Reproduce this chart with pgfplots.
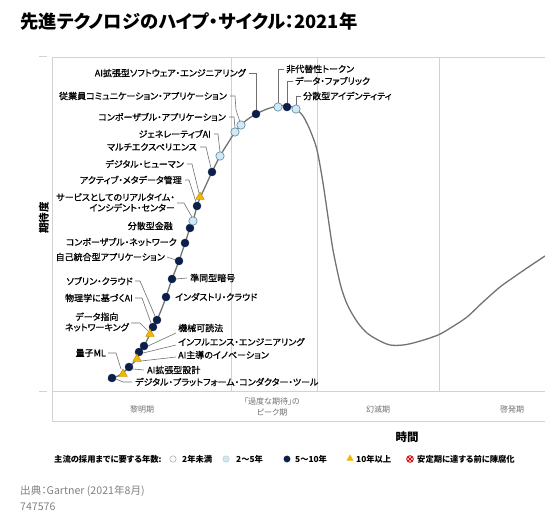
\documentclass[border=0pt]{standalone}
\usepackage{pgfplots}
\pgfplotsset{compat=1.18}
\usepackage{fontspec}
\setmainfont{Noto Sans CJK JP}[RawFeature=+palt]
\newfontfamily\lblfont{Noto Sans CJK JP}[RawFeature=+palt, FakeBold=0.9]
\definecolor{navy}{HTML}{0B1F4B}
\definecolor{lightb}{HTML}{CFEAF6}
\definecolor{lightbd}{HTML}{5E8294}
\definecolor{gold}{HTML}{F2B705}
\definecolor{golddark}{HTML}{B88A00}
\definecolor{curvec}{HTML}{6E7571}
\definecolor{framec}{HTML}{D2D2D2}
\definecolor{leaderc}{HTML}{707070}
\definecolor{phasec}{HTML}{707070}
\tikzset{
  lbl/.style={inner sep=0pt, font=\lblfont\fontsize{9}{10.5}\selectfont, text=black},
  ldr/.style={draw=leaderc, line width=0.6pt},
  fr/.style={draw=framec, line width=0.8pt},
  leg/.style={inner sep=0pt, anchor=west, font=\fontsize{8.3}{9}\selectfont\bfseries},
}
\begin{document}
\begin{tikzpicture}
\begin{axis}[
  width=545pt, height=516pt, scale only axis,
  xmin=0, xmax=545, ymin=0, ymax=516, y dir=reverse,
  hide axis, clip=false,
]
% frame
\draw[fr] (axis cs:52,57) -- (axis cs:545,57);
\draw[fr] (axis cs:52,57) -- (axis cs:52,421);
\draw[fr] (axis cs:52,391) -- (axis cs:545,391);
\draw[fr] (axis cs:52,421) -- (axis cs:545,421);
\draw[fr] (axis cs:39,56) -- (axis cs:47,56);
\draw[fr] (axis cs:39,391) -- (axis cs:47,391);
\draw[fr] (axis cs:231,57) -- (axis cs:231,391);
\draw[fr] (axis cs:317,57) -- (axis cs:317,391);
\draw[fr] (axis cs:439,57) -- (axis cs:439,391);

% hype curve
\addplot[curvec, line width=1.3pt, smooth, tension=0.5, mark=none] coordinates {
(108,380) (112,378) (118,376) (123,373) (129,367) (137,359) (139,353) (144,346)
(150,334) (153,327) (157,320) (162,308) (166,297) (172,279) (179,261) (185,243)
(190,228) (193,221) (197,206) (200,198) (206,185) (212,172) (220,156) (228,143)
(235,132) (241,125) (248,119) (256,114) (267,109) (278,106) (285,105.5) (291,106.5)
(296,109) (303,116) (310,130) (317,150) (323,183) (328,217) (333,250) (340,283)
(345,299) (350,310) (358,323) (367,333) (378,340) (390,345) (403,345) (417,342)
(438,335) (452,327) (467,317) (483,302) (500,287) (514,277) (527,268) (545,256)
};

% leaders
\draw[ldr] (axis cs:249,73) -- (axis cs:256,73) -- (axis cs:256,110);
\draw[ldr] (axis cs:230,96) -- (axis cs:235,96) -- (axis cs:236,110) -- (axis cs:240,122);
\draw[ldr] (axis cs:229,117) -- (axis cs:234,117) -- (axis cs:235,128);
\draw[ldr] (axis cs:214,134) -- (axis cs:218,134) -- (axis cs:220,152);
\draw[ldr] (axis cs:200,147) -- (axis cs:206,147) -- (axis cs:211,168);
\draw[ldr] (axis cs:187,164) -- (axis cs:192,164) -- (axis cs:199,193);
\draw[ldr] (axis cs:185,180) -- (axis cs:189,180) -- (axis cs:196,202);
\draw[ldr] (axis cs:177,203) -- (axis cs:184,203) -- (axis cs:192,217);
\draw[ldr] (axis cs:167,257) -- (axis cs:176,260);
\draw[ldr] (axis cs:176,279) -- (axis cs:187,278);
\draw[ldr] (axis cs:135,281) -- (axis cs:140,281) -- (axis cs:155,316);
\draw[ldr] (axis cs:135,298) -- (axis cs:142,298) -- (axis cs:151,323);
\draw[ldr] (axis cs:131,323) -- (axis cs:140,323) -- (axis cs:148,331);
\draw[ldr] (axis cs:176,333) -- (axis cs:148,346);
\draw[ldr] (axis cs:176,345) -- (axis cs:143,353);
\draw[ldr] (axis cs:176,357) -- (axis cs:141,361);
\draw[ldr] (axis cs:108,353) -- (axis cs:116,353) -- (axis cs:121,369);
\draw[ldr] (axis cs:133,369) -- (axis cs:144,370);
\draw[ldr] (axis cs:116,379) -- (axis cs:123,382) -- (axis cs:132,382);
\draw[ldr] (axis cs:284,69) -- (axis cs:278,69) -- (axis cs:278,103);
\draw[ldr] (axis cs:293,81) -- (axis cs:287,81) -- (axis cs:287,103);
\draw[ldr] (axis cs:301,96) -- (axis cs:296,96) -- (axis cs:296,105);

% markers: 5-10 years
\addplot[only marks, mark=*, mark size=4pt, mark options={fill=navy, draw=navy}] coordinates {
(256,114) (287,107) (212,172) (197,206) (190,228) (185,243) (179,261) (172,279)
(166,297) (157,320) (153,327) (144,346) (139,352) (129,367) (112,378)
};
% 2-5 years
\addplot[only marks, mark=*, mark size=4.2pt, mark options={fill=lightb, draw=lightbd, line width=0.6pt}] coordinates {
(241,125) (235,132) (220,156) (193,221) (278,107) (296,109)
};
% >10 years
\addplot[only marks, mark=triangle*, mark size=5pt, mark options={fill=gold, draw=golddark, line width=0.4pt}] coordinates {
(200,197) (150,334) (137,359) (123,374)
};

% labels left
\node[lbl, anchor=east] at (axis cs:246,73) {AI拡張型ソフトウェア・エンジニアリング};
\node[lbl, anchor=east] at (axis cs:227,96) {従業員コミュニケーション・アプリケーション};
\node[lbl, anchor=east] at (axis cs:226,117) {コンポーザブル・アプリケーション};
\node[lbl, anchor=east] at (axis cs:211,134) {ジェネレーティブAI};
\node[lbl, anchor=east] at (axis cs:197,147) {マルチエクスペリエンス};
\node[lbl, anchor=east] at (axis cs:184,164) {デジタル・ヒューマン};
\node[lbl, anchor=east] at (axis cs:182,180) {アクティブ・メタデータ管理};
\node[lbl, anchor=east, align=right] at (axis cs:175,202.5) {サービスとしてのリアルタイム・\\インシデント・センター};
\node[lbl, anchor=east] at (axis cs:173,226) {分散型金融};
\node[lbl, anchor=east] at (axis cs:177,242) {コンポーザブル・ネットワーク};
\node[lbl, anchor=east] at (axis cs:165,257) {自己統合型アプリケーション};
\node[lbl, anchor=east] at (axis cs:133,281) {ソブリン・クラウド};
\node[lbl, anchor=east] at (axis cs:133,298) {物理学に基づくAI};
\node[lbl, anchor=east, align=center] at (axis cs:129,322) {データ指向\\ネットワーキング};
\node[lbl, anchor=east] at (axis cs:106,353) {量子ML};
% labels right
\node[lbl, anchor=west] at (axis cs:190,278) {準同型暗号};
\node[lbl, anchor=west] at (axis cs:175,297) {インダストリ・クラウド};
\node[lbl, anchor=west] at (axis cs:178,328) {機械可読法};
\node[lbl, anchor=west] at (axis cs:178,342) {インフルエンス・エンジニアリング};
\node[lbl, anchor=west] at (axis cs:178,355) {AI主導のイノベーション};
\node[lbl, anchor=west] at (axis cs:147,370) {AI拡張型設計};
\node[lbl, anchor=west] at (axis cs:135,382) {デジタル・プラットフォーム・コンダクター・ツール};
\node[lbl, anchor=west] at (axis cs:286,69) {非代替性トークン};
\node[lbl, anchor=west] at (axis cs:295,81) {データ・ファブリック};
\node[lbl, anchor=west] at (axis cs:303,96) {分散型アイデンティティ};

% phase labels
\node[inner sep=0pt, font=\fontsize{8}{9}\selectfont, text=phasec] at (axis cs:142,409) {黎明期};
\node[inner sep=0pt, font=\fontsize{8}{10.5}\selectfont, text=phasec, align=center] at (axis cs:272,407) {「過度な期待」の\\ピーク期};
\node[inner sep=0pt, font=\fontsize{8}{9}\selectfont, text=phasec] at (axis cs:378,409) {幻滅期};
\node[inner sep=0pt, font=\fontsize{8}{9}\selectfont, text=phasec] at (axis cs:512,409) {啓発期};

% axis titles
\node[inner sep=0pt, font=\fontsize{11.5}{12}\selectfont\bfseries] at (axis cs:407,437) {時間};
\node[inner sep=0pt, font=\fontsize{10.5}{12}\selectfont\bfseries, rotate=90] at (axis cs:44,218) {期待度};

% title
\node[inner sep=0pt, anchor=west, font=\fontsize{18.3}{20}\selectfont\bfseries] at (axis cs:20,21) {先進テクノロジのハイプ・サイクル：2021年};

% legend
\node[leg] at (axis cs:54,459) {主流の採用までに要する年数:};
\addplot[only marks, mark=*, mark size=3.2pt, mark options={fill=white, draw=gray!70, line width=0.5pt}] coordinates {(173,459)};
\node[leg] at (axis cs:182,459) {2年未満};
\addplot[only marks, mark=*, mark size=3.2pt, mark options={fill=lightb, draw=lightb!70!gray, line width=0.5pt}] coordinates {(226,459)};
\node[leg] at (axis cs:236,459) {2〜5年};
\addplot[only marks, mark=*, mark size=3.2pt, mark options={fill=navy, draw=navy}] coordinates {(287,459)};
\node[leg] at (axis cs:295,459) {5〜10年};
\addplot[only marks, mark=triangle*, mark size=3.6pt, mark options={fill=gold, draw=gold}] coordinates {(350,458.5)};
\node[leg] at (axis cs:356,459) {10年以上};
\addplot[only marks, mark=otimes, mark size=3.3pt, mark options={draw=red!85!black, line width=0.9pt}] coordinates {(410,459)};
\node[leg] at (axis cs:417,459) {安定期に達する前に陳腐化};

% source
\node[inner sep=0pt, anchor=west, font=\fontsize{10.6}{12}\selectfont, text=gray] at (axis cs:20,491) {出典：Gartner (2021年8月)};
\node[inner sep=0pt, anchor=west, font=\fontsize{10.6}{12}\selectfont, text=gray] at (axis cs:20,507) {747576};
\end{axis}
\pgfresetboundingbox
\path (0,0) rectangle (545pt,516pt);
\end{tikzpicture}
\end{document}
